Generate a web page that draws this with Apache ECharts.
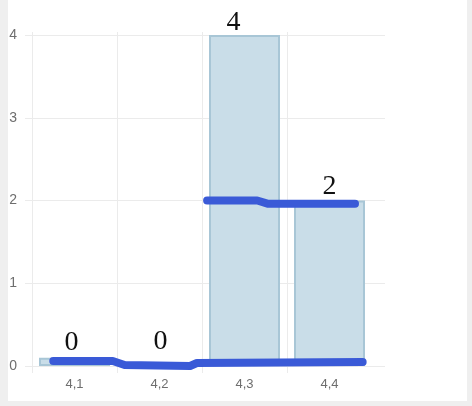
<!DOCTYPE html>
<html>
<head>
<meta charset="utf-8">
<script src="https://cdn.jsdelivr.net/npm/echarts@6/dist/echarts.min.js"></script>
<style>
body{margin:0;background:#efefef;}
#paper{position:absolute;left:8px;top:0;width:459px;height:401px;background:#fff;}
#chart{position:absolute;left:0;top:0;width:472px;height:406px;}
</style>
</head>
<body>
<div id="paper"></div>
<div id="chart"></div>
<script>
// data
var categories=['4,1','4,2','4,3','4,4'];
var barValues=[0.1,0,4,2];
var barLabels=['0','0','4','2'];
var yTicks=[0,1,2,3,4];
// pen strokes, [position along the category axis, value]
var strokeLow=[[0.25,0.06],[0.95,0.06],[1.09,0.012],[1.86,0],[1.94,0.036],[3.89,0.048]];
var strokeHigh=[[2.06,2.0],[2.65,2.0],[2.78,1.96],[3.8,1.96]];

var labelOffsets=[[-3,1],[1,-7],[-11,4],[0,2]];

var chart=echarts.init(document.getElementById('chart'));
var gridColor='#ebebeb';
var penStyle={color:'#3a5ad7',width:8,cap:'round',join:'round'};

var bars=barValues.map(function(v,i){
    return {value:v,label:{offset:labelOffsets[i]}};
});

var option={
    animation:false,
    grid:[
        {left:32,right:100,top:35,bottom:40},
        {left:25,right:87,top:35,bottom:40},
        {left:32,right:100,top:32,bottom:33}
    ],
    xAxis:[
        {
            type:'category',gridIndex:0,data:categories,
            axisLine:{show:false},axisTick:{show:false},
            axisLabel:{color:'#6e6e6e',fontSize:13,margin:12,fontFamily:'Liberation Sans'},
            splitLine:{show:false}
        },
        {type:'value',gridIndex:1,show:false,min:0,max:1},
        {type:'value',gridIndex:0,show:false,min:0,max:4},
        {
            type:'category',gridIndex:2,data:categories,
            axisLine:{show:false},axisTick:{show:false},axisLabel:{show:false},
            splitLine:{show:true,showMaxLine:false,lineStyle:{color:gridColor}}
        }
    ],
    yAxis:[
        {
            type:'value',gridIndex:0,min:0,max:4,interval:1,
            axisLine:{show:false},axisTick:{show:false},
            splitLine:{show:false},
            axisLabel:{color:'#6e6e6e',fontSize:14,margin:15,fontFamily:'Liberation Sans',
                formatter:function(v){return yTicks.indexOf(v)>=0?String(v):'';}}
        },
        {
            type:'value',gridIndex:1,min:0,max:4,interval:1,
            axisLine:{show:false},axisTick:{show:false},axisLabel:{show:false},
            splitLine:{show:true,lineStyle:{color:gridColor}}
        },
        {type:'value',gridIndex:2,show:false,min:0,max:1}
    ],
    series:[
        {
            type:'bar',xAxisIndex:0,yAxisIndex:0,barWidth:71,
            data:bars,
            itemStyle:{color:'#c9dde8',borderColor:'#a8c6d6',borderWidth:2},
            label:{
                show:true,position:'top',distance:2,
                fontFamily:'Liberation Serif',fontSize:28,color:'#111',
                formatter:function(p){return barLabels[p.dataIndex];}
            }
        },
        {
            type:'line',xAxisIndex:2,yAxisIndex:0,data:strokeLow,
            symbol:'none',lineStyle:penStyle,z:5
        },
        {
            type:'line',xAxisIndex:2,yAxisIndex:0,data:strokeHigh,
            symbol:'none',lineStyle:penStyle,z:5
        }
    ]
};
chart.setOption(option);
</script>
</body>
</html>
